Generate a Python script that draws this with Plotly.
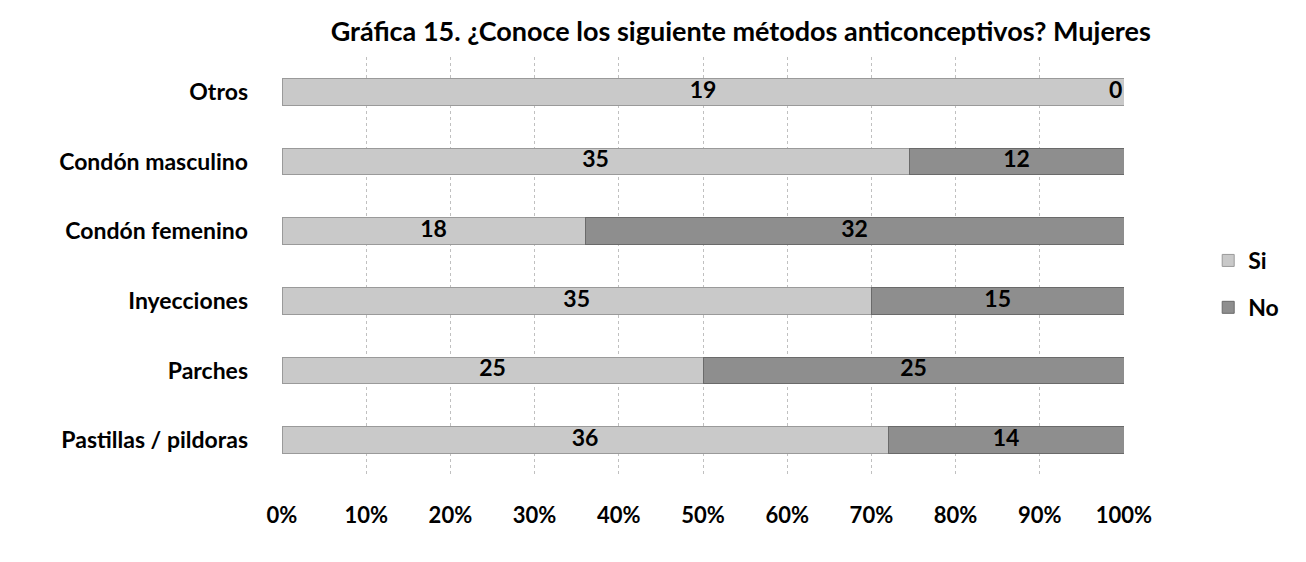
import plotly.graph_objects as go

categories = ["Pastillas / pildoras", "Parches", "Inyecciones", "Condón femenino", "Condón masculino", "Otros"]
si_values = [36, 25, 35, 18, 35, 19]
no_values = [14, 25, 15, 32, 12, 0]
tick_vals = [0, 10, 20, 30, 40, 50, 60, 70, 80, 90, 100]
tick_text = [f"{v}%" for v in tick_vals]

totals = [s + n for s, n in zip(si_values, no_values)]
si_pct = [100 * s / t for s, t in zip(si_values, totals)]
no_pct = [100 * n / t for n, t in zip(no_values, totals)]

FONT = "Lato"
fig = go.Figure()
fig.add_trace(go.Bar(y=categories, x=si_pct, name="Si", orientation="h", legendgroup="si",
                     marker=dict(color="#c9c9c9", line=dict(color="#9a9a9a", width=1)),
                     width=0.38, hoverinfo="skip"))
fig.add_trace(go.Bar(y=categories, x=no_pct, name="No", orientation="h", legendgroup="no",
                     marker=dict(color="#8e8e8e", line=dict(color="#6a6a6a", width=1)),
                     width=0.38, hoverinfo="skip"))

# labels
si_x = [p / 2 for p in si_pct]
no_x = [s + n / 2 if n > 0 else 99 for s, n in zip(si_pct, no_pct)]
lbl_font = dict(family=FONT, size=23, color="black", weight="bold")
fig.add_trace(go.Scatter(y=categories, x=si_x, text=[str(v) for v in si_values], mode="text",
                         textfont=lbl_font, showlegend=False, hoverinfo="skip", cliponaxis=False))
fig.add_trace(go.Scatter(y=categories, x=no_x, text=[str(v) for v in no_values], mode="text",
                         textfont=lbl_font, showlegend=False, hoverinfo="skip", cliponaxis=False))

fig.update_layout(
    barmode="stack",
    width=1290, height=546,
    paper_bgcolor="white", plot_bgcolor="white",
    margin=dict(l=274, r=174, t=49, b=79),
    font=dict(family=FONT, color="black"),
    title=dict(text="<b>Gráfica 15. ¿Conoce los siguiente métodos anticonceptivos? Mujeres</b>",
               x=0.568, xanchor="center", y=0.956, yanchor="middle",
               font=dict(family=FONT, size=27, color="black")),
    legend=dict(x=1.10, xanchor="left", y=0.457, yanchor="middle", traceorder="grouped",
                font=dict(family=FONT, size=23, color="black", weight="bold"),
                tracegroupgap=14, itemwidth=30),
    xaxis=dict(range=[0, 100], tickvals=tick_vals, ticktext=tick_text,
               showgrid=True, gridcolor="#c0c0c0", griddash="dot", gridwidth=1,
               zeroline=False, showline=False, ticks="",
               tickfont=dict(family=FONT, size=22, color="black", weight="bold"),
               ticklabelstandoff=25, automargin=False),
    yaxis=dict(showgrid=False, zeroline=False, ticks="", showline=False,
               tickfont=dict(family=FONT, size=23, color="black", weight="bold"),
               ticklabelstandoff=33, automargin=False),
)
fig.write_html("out.html")
